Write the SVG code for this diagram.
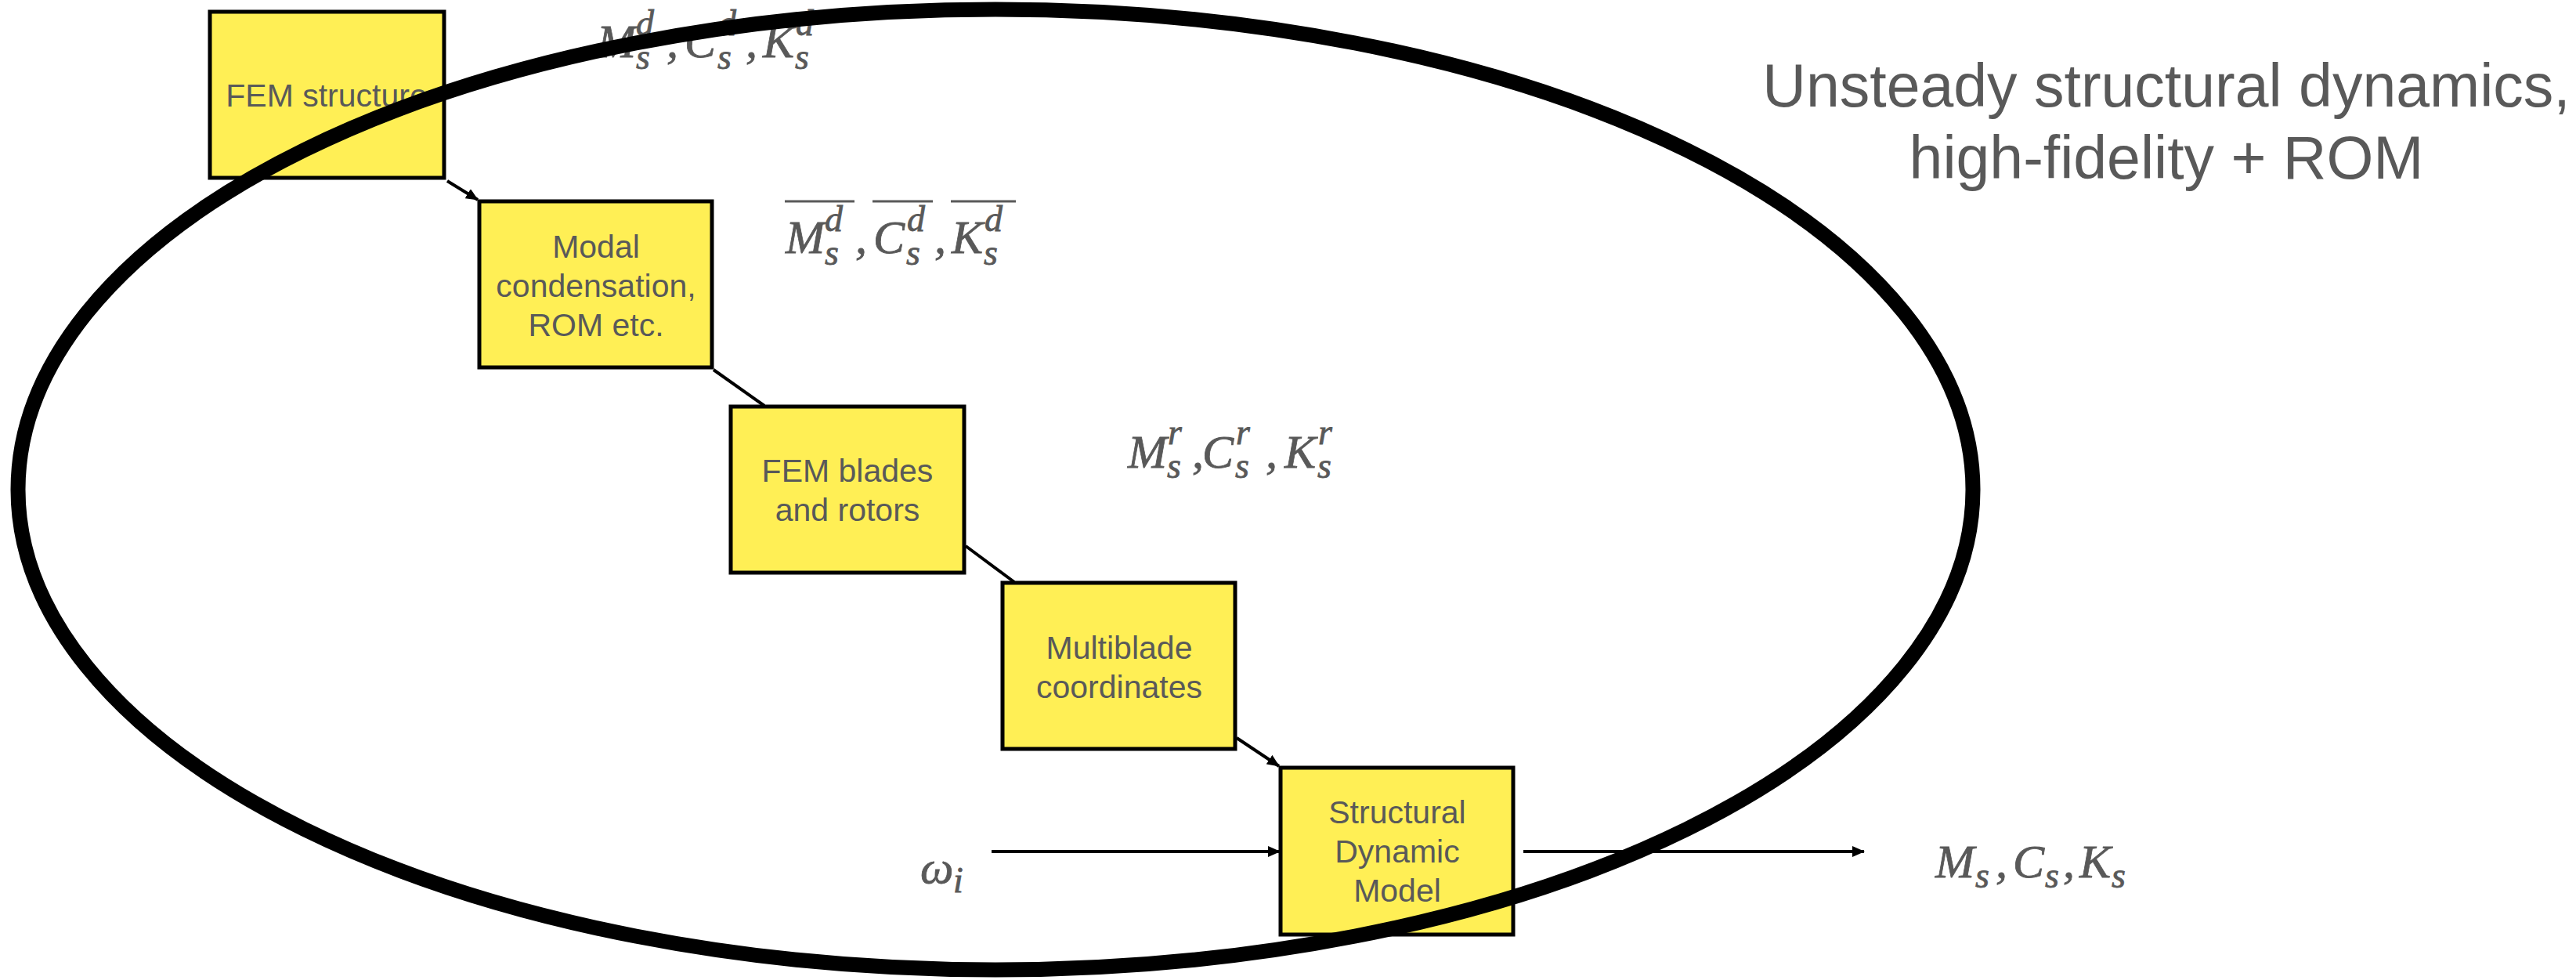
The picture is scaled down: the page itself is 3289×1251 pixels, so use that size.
<svg xmlns="http://www.w3.org/2000/svg" width="3289" height="1251" viewBox="0 0 3289 1251">
  <defs>
    <style>
      .box { fill: #FFEF55; stroke: #000; stroke-width: 5; }
      .lbl { font-family: "Liberation Sans", Arial, sans-serif; font-size: 41px; fill: #595959; text-anchor: middle; }
      .title { font-family: "Liberation Sans", Arial, sans-serif; font-size: 77px; fill: #595959; text-anchor: middle; }
      .math { font-family: "Liberation Serif", "DejaVu Serif", serif; font-style: italic; font-size: 60px; fill: #595959; stroke: #595959; stroke-width: 0.8; }
      .scr { font-size: 46px; }
      .conn { stroke: #000; stroke-width: 4; fill: none; }
      .bar { stroke: #595959; stroke-width: 3; }
    </style>
    <marker id="arrow" markerUnits="userSpaceOnUse" markerWidth="16" markerHeight="14" refX="15" refY="7" orient="auto">
      <path d="M0,0 L16,7 L0,14 z" fill="#000"/>
    </marker>
  </defs>

  <rect width="3289" height="1251" fill="#fff"/>

  <!-- connectors -->
  <g id="connectors">
    <line class="conn" x1="571" y1="231" x2="610" y2="255" stroke-width="3.5" marker-end="url(#arrow)"/>
    <line class="conn" x1="911" y1="472" x2="976" y2="518"/>
    <line class="conn" x1="1233" y1="697" x2="1295" y2="743"/>
    <line class="conn" x1="1579" y1="942" x2="1633" y2="978" marker-end="url(#arrow)"/>
    <line class="conn" x1="1266" y1="1087" x2="1634" y2="1087" marker-end="url(#arrow)"/>
    <line class="conn" x1="1945" y1="1087" x2="2380" y2="1087" marker-end="url(#arrow)"/>
  </g>

  <!-- processing blocks -->
  <g id="fem-structure">
    <rect class="box" x="268" y="15" width="299" height="212"/>
    <text class="lbl" x="417" y="136">FEM structure</text>
  </g>
  <g id="modal-condensation">
    <rect class="box" x="612" y="257" width="297" height="212"/>
    <text class="lbl" x="761" y="329">Modal</text>
    <text class="lbl" x="761" y="379">condensation,</text>
    <text class="lbl" x="761" y="429">ROM etc.</text>
  </g>
  <g id="fem-blades">
    <rect class="box" x="933" y="519" width="298" height="212"/>
    <text class="lbl" x="1082" y="615">FEM blades</text>
    <text class="lbl" x="1082" y="665">and rotors</text>
  </g>
  <g id="multiblade">
    <rect class="box" x="1280" y="744" width="297" height="212"/>
    <text class="lbl" x="1429" y="841">Multiblade</text>
    <text class="lbl" x="1429" y="891">coordinates</text>
  </g>
  <g id="structural-dynamic-model">
    <rect class="box" x="1635" y="980" width="297" height="213"/>
    <text class="lbl" x="1784" y="1051">Structural</text>
    <text class="lbl" x="1784" y="1101">Dynamic</text>
    <text class="lbl" x="1784" y="1151">Model</text>
  </g>

  <!-- matrix labels -->
  <g id="labels">
    <text class="math">
      <tspan x="762" y="73">M</tspan><tspan class="scr" x="812" y="45">d</tspan><tspan class="scr" x="812" y="88">s</tspan><tspan x="851" y="73">,</tspan><tspan x="874" y="73">C</tspan><tspan class="scr" x="917" y="45">d</tspan><tspan class="scr" x="916" y="88">s</tspan><tspan x="952" y="73">,</tspan><tspan x="974" y="73">K</tspan><tspan class="scr" x="1016" y="45">d</tspan><tspan class="scr" x="1015" y="88">s</tspan>
    </text>

    <g id="reduced-matrices">
      <line class="bar" x1="1002" y1="257" x2="1091" y2="257"/>
      <line class="bar" x1="1114" y1="257" x2="1191" y2="257"/>
      <line class="bar" x1="1214" y1="257" x2="1297" y2="257"/>
      <text class="math">
        <tspan x="1003" y="323">M</tspan><tspan class="scr" x="1053" y="295">d</tspan><tspan class="scr" x="1053" y="338">s</tspan><tspan x="1092" y="323">,</tspan><tspan x="1115" y="323">C</tspan><tspan class="scr" x="1158" y="295">d</tspan><tspan class="scr" x="1157" y="338">s</tspan><tspan x="1193" y="323">,</tspan><tspan x="1215" y="323">K</tspan><tspan class="scr" x="1257" y="295">d</tspan><tspan class="scr" x="1256" y="338">s</tspan>
      </text>
    </g>

    <text class="math">
      <tspan x="1440" y="597">M</tspan><tspan class="scr" x="1491" y="567">r</tspan><tspan class="scr" x="1490" y="610">s</tspan><tspan x="1522" y="597">,</tspan><tspan x="1535" y="597">C</tspan><tspan class="scr" x="1578" y="567">r</tspan><tspan class="scr" x="1577" y="610">s</tspan><tspan x="1616" y="597">,</tspan><tspan x="1640" y="597">K</tspan><tspan class="scr" x="1683" y="567">r</tspan><tspan class="scr" x="1682" y="610">s</tspan>
    </text>

    <text class="math">
      <tspan x="1175" y="1127">ω</tspan><tspan class="scr" x="1217" y="1139">i</tspan>
    </text>

    <text class="math">
      <tspan x="2471" y="1120">M</tspan><tspan class="scr" x="2522" y="1133">s</tspan><tspan x="2548" y="1120">,</tspan><tspan x="2570" y="1120">C</tspan><tspan class="scr" x="2611" y="1133">s</tspan><tspan x="2634" y="1120">,</tspan><tspan x="2655" y="1120">K</tspan><tspan class="scr" x="2696" y="1133">s</tspan>
    </text>
  </g>

  <!-- heading -->
  <g id="title">
    <text class="title" x="2766" y="136">Unsteady structural dynamics,</text>
    <text class="title" x="2766" y="228">high-fidelity + ROM</text>
  </g>

  <!-- scope boundary, drawn over the blocks -->
  <g id="boundary">
    <ellipse cx="1271" cy="625" rx="1248" ry="613" fill="none" stroke="#000" stroke-width="19"/>
  </g>
</svg>
